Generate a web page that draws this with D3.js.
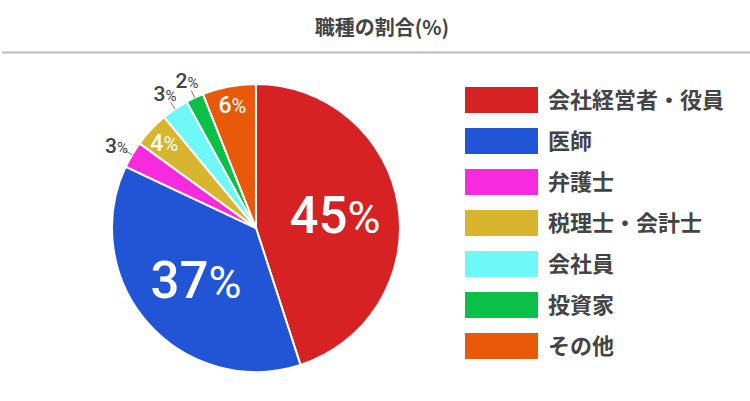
<!DOCTYPE html>
<html>
<head>
<meta charset="utf-8">
<script src="https://cdn.jsdelivr.net/npm/d3@7"></script>
<style>
  body { margin: 0; background: #fff; }
  svg { display: block; }
  .title { font-family: "Noto Sans CJK JP", sans-serif; font-weight: bold; font-size: 20px; fill: #444; }
  .legend-text { font-family: "Noto Sans CJK JP", sans-serif; font-weight: bold; font-size: 22px; fill: #444; }
  .pct { font-family: Roboto, "Noto Sans CJK JP", sans-serif; }
</style>
</head>
<body>
<div id="chart"></div>
<script>
// data
const categories = ["会社経営者・役員", "医師", "弁護士", "税理士・会計士", "会社員", "投資家", "その他"];
const shares = [45, 37, 3, 4, 3, 2, 6];
const colors = ["#d62222", "#2255d5", "#f82ae0", "#d8b52e", "#6ef8f8", "#0ac048", "#e85a0a"];
// how each label is placed: big inside, small inside, outside with leader
const labelKind = ["big", "big", "out", "in", "out", "out", "in"];

const width = 750, height = 401;
const cx = 256, cy = 228, radius = 144;

const svg = d3.select("#chart").append("svg")
    .attr("width", width)
    .attr("height", height);

svg.append("text").classed("title", true)
    .attr("x", 382).attr("y", 35)
    .attr("text-anchor", "middle")
    .text("職種の割合(%)");

svg.append("line")
    .attr("x1", 2).attr("x2", width)
    .attr("y1", 52.5).attr("y2", 52.5)
    .attr("stroke", "#bbb").attr("stroke-width", 2);

let rows = categories.map((c, i) => ({ name: c, value: shares[i], color: colors[i], kind: labelKind[i] }));

let pie = d3.pie().value(d => d.value).sort(null);
let arc = d3.arc().innerRadius(0).outerRadius(radius);
let arcs = pie(rows);

let g = svg.append("g").attr("transform", "translate(" + cx + "," + cy + ")");

g.selectAll("path.slice").data(arcs).enter().append("path")
    .attr("class", "slice")
    .attr("d", arc)
    .attr("fill", d => d.data.color)
    .attr("stroke", "#fff")
    .attr("stroke-width", 2);

function at(r, a) {
    return [r * Math.sin(a), -r * Math.cos(a)];
}
function mid(d) { return (d.startAngle + d.endAngle) / 2; }

// big labels
let big = g.selectAll("text.big").data(arcs.filter(d => d.data.kind == "big")).enter()
    .append("text").attr("class", "pct big")
    .attr("text-anchor", "middle")
    .attr("x", d => at(80, mid(d))[0])
    .attr("y", d => at(80, mid(d))[1] + 17)
    .attr("fill", "#fff");
big.append("tspan").attr("font-size", 51).attr("font-weight", 500).text(d => d.data.value);
big.append("tspan").attr("font-size", 45).text("%");

// small inside labels
let inner = g.selectAll("text.in").data(arcs.filter(d => d.data.kind == "in")).enter()
    .append("text").attr("class", "pct in")
    .attr("text-anchor", "middle")
    .attr("x", d => at(126, mid(d))[0])
    .attr("y", d => at(126, mid(d))[1] + 9)
    .attr("fill", "#fff");
inner.append("tspan").attr("font-size", 23).attr("font-weight", 500).text(d => d.data.value);
inner.append("tspan").attr("font-size", 20).text("%");

// outside labels with leader lines
let outs = arcs.filter(d => d.data.kind == "out");
g.selectAll("line.leader").data(outs).enter().append("line")
    .attr("class", "leader")
    .attr("x1", d => at(144, mid(d))[0])
    .attr("y1", d => at(144, mid(d))[1])
    .attr("x2", d => at(152, mid(d))[0])
    .attr("y2", d => at(152, mid(d))[1])
    .attr("stroke", "#777").attr("stroke-width", 1);

let outer = g.selectAll("text.out").data(outs).enter()
    .append("text").attr("class", "pct out")
    .attr("text-anchor", "middle")
    .attr("x", d => at(162, mid(d))[0])
    .attr("y", d => at(162, mid(d))[1] + 7)
    .attr("fill", "#444");
outer.append("tspan").attr("font-size", 21).attr("font-weight", 500).text(d => d.data.value);
outer.append("tspan").attr("font-size", 15).text("%");

// legend
let yScale = d3.scalePoint().domain(categories).range([100, 346]);

let legend = svg.append("g").selectAll("g.item").data(rows).enter()
    .append("g").attr("class", "item")
    .attr("transform", d => "translate(465," + yScale(d.name) + ")");

legend.append("rect")
    .attr("x", 0).attr("y", -13)
    .attr("width", 73).attr("height", 26)
    .attr("fill", d => d.color);

legend.append("text").classed("legend-text", true)
    .attr("x", 83).attr("y", 0)
    .attr("dy", "0.36em")
    .text(d => d.name);
</script>
</body>
</html>
